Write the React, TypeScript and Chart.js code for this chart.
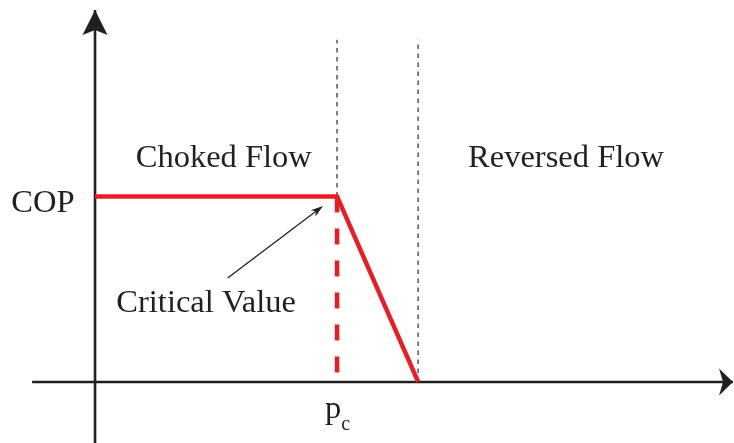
import React, { useEffect, useRef } from "react";
import { Chart, registerables } from "chart.js";

Chart.register(...registerables);

// COP curve: flat (choked flow) until critical pressure pc, then falls to zero
const flowX = [0, 1, 1.335];
const flowY = [1, 1, 0];
// dashed drop from the critical value to the x axis
const criticalX = [1, 1];
const criticalY = [1, 0];
// dotted region boundaries
const boundaryX = [1, 1.335];
const boundaryBottom = [1, 0];
const boundaryTop = 1.845;
// axes extents (data coordinates)
const xAxisFrom = -0.26;
const xAxisTo = 2.636;
const yAxisFrom = -0.33;
const yAxisTo = 2.005;
// text labels
const regionLabels = ["Choked Flow", "Reversed Flow"];
const regionLabelX = [0.532, 1.946];
const regionLabelY = 1.157;
const yLabel = "COP";
const yLabelPos = [-0.215, 0.915];
const criticalLabel = "Critical Value";
const criticalLabelPos = [0.459, 0.376];
const criticalArrowFrom = [0.548, 0.56];
const criticalArrowTo = [0.942, 0.949];
const xTickLabel = "p";
const xTickSub = "c";
const xTickPos = [1, -0.194];

const RED = "#ed1c24";
const INK = "#231f20";
const SERIF = "'Liberation Serif', 'Times New Roman', serif";

const overlayPlugin = {
  id: "overlay",
  afterDatasetsDraw(chart: any) {
    const { ctx, scales } = chart;
    const px = (v: number) => scales.x.getPixelForValue(v);
    const py = (v: number) => scales.y.getPixelForValue(v);
    ctx.save();
    // axis arrowheads
    ctx.fillStyle = INK;
    const tx = px(0), ty = py(yAxisTo);
    ctx.beginPath();
    ctx.moveTo(tx, ty);
    ctx.lineTo(tx + 12.5, ty + 25);
    ctx.lineTo(tx, ty + 20);
    ctx.lineTo(tx - 12.5, ty + 25);
    ctx.closePath();
    ctx.fill();
    const rx = px(xAxisTo), ry = py(0);
    ctx.beginPath();
    ctx.moveTo(rx, ry);
    ctx.lineTo(rx - 14, ry - 13.5);
    ctx.lineTo(rx - 10, ry);
    ctx.lineTo(rx - 14, ry + 13.5);
    ctx.closePath();
    ctx.fill();

    // critical value pointer
    const ax0 = px(criticalArrowFrom[0]), ay0 = py(criticalArrowFrom[1]);
    const ax1 = px(criticalArrowTo[0]), ay1 = py(criticalArrowTo[1]);
    const ang = Math.atan2(ay1 - ay0, ax1 - ax0);
    ctx.strokeStyle = INK;
    ctx.lineWidth = 1.3;
    ctx.beginPath();
    ctx.moveTo(ax0, ay0);
    ctx.lineTo(ax1 - 8 * Math.cos(ang), ay1 - 8 * Math.sin(ang));
    ctx.stroke();
    ctx.beginPath();
    ctx.moveTo(ax1, ay1);
    ctx.lineTo(ax1 - 13 * Math.cos(ang - 0.3), ay1 - 13 * Math.sin(ang - 0.3));
    ctx.lineTo(ax1 - 9 * Math.cos(ang), ay1 - 9 * Math.sin(ang));
    ctx.lineTo(ax1 - 13 * Math.cos(ang + 0.3), ay1 - 13 * Math.sin(ang + 0.3));
    ctx.closePath();
    ctx.fill();

    // labels
    ctx.fillStyle = INK;
    ctx.textBaseline = "alphabetic";
    ctx.textAlign = "center";
    ctx.font = `32.5px ${SERIF}`;
    regionLabels.forEach((t, i) => ctx.fillText(t, px(regionLabelX[i]), py(regionLabelY)));
    ctx.fillText(yLabel, px(yLabelPos[0]), py(yLabelPos[1]));
    ctx.fillText(criticalLabel, px(criticalLabelPos[0]), py(criticalLabelPos[1]));
    ctx.textAlign = "left";
    const pX = px(xTickPos[0]) - 12, pY = py(xTickPos[1]);
    ctx.fillText(xTickLabel, pX, pY);
    const w = ctx.measureText(xTickLabel).width;
    ctx.font = `20px ${SERIF}`;
    ctx.fillText(xTickSub, pX + w, pY + 12);
    ctx.restore();
  },
};

export default function App() {
  const ref = useRef<HTMLCanvasElement>(null);
  useEffect(() => {
    const canvas = ref.current!;
    const boundaryDatasets = boundaryX.map((bx, i) => ({
      data: [
        { x: bx, y: boundaryBottom[i] },
        { x: bx, y: boundaryTop },
      ],
      borderColor: "#6d6e70",
      borderWidth: 1.8,
      borderDash: [4.5, 4.5],
      showLine: true,
      pointRadius: 0,
    }));
    const chart = new Chart(canvas, {
      type: "scatter",
      data: {
        // first dataset is drawn on top in Chart.js
        datasets: [
          {
            data: flowX.map((x, i) => ({ x, y: flowY[i] })),
            borderColor: RED,
            borderWidth: 4.5,
            borderJoinStyle: "miter",
            showLine: true,
            pointRadius: 0,
          },
          {
            data: criticalX.map((x, i) => ({ x, y: criticalY[i] })),
            borderColor: RED,
            borderWidth: 4.5,
            borderDash: [16, 16],
            showLine: true,
            pointRadius: 0,
          },
          {
            data: [
              { x: xAxisFrom, y: 0 },
              { x: xAxisTo, y: 0 },
            ],
            borderColor: INK,
            borderWidth: 2.6,
            showLine: true,
            pointRadius: 0,
          },
          {
            data: [
              { x: 0, y: yAxisFrom },
              { x: 0, y: yAxisTo },
            ],
            borderColor: INK,
            borderWidth: 2.6,
            showLine: true,
            pointRadius: 0,
          },
          ...boundaryDatasets,
        ],
      },
      options: {
        animation: false,
        responsive: false,
        devicePixelRatio: 1,
        layout: { padding: 0 },
        plugins: { legend: { display: false }, tooltip: { enabled: false } },
        scales: {
          x: { type: "linear", display: false, min: -0.3926, max: 2.64 },
          y: { type: "linear", display: false, min: -0.329, max: 2.059 },
        },
      },
      plugins: [overlayPlugin],
    } as any);
    return () => chart.destroy();
  }, []);
  return (
    <div style={{ position: "fixed", left: 0, top: 0, width: 734, height: 443, background: "#fff" }}>
      <canvas ref={ref} width={734} height={443} style={{ display: "block" }} />
    </div>
  );
}
